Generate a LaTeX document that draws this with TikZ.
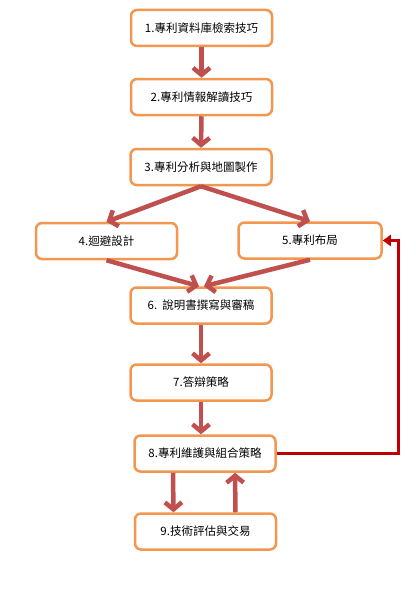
\documentclass[tikz,border=0pt]{standalone}
\usepackage{fontspec}
\setmainfont{Noto Sans CJK TC}
\usetikzlibrary{arrows.meta,calc}
\definecolor{boxedge}{RGB}{242,150,80}
\definecolor{flowarr}{RGB}{192,80,77}
\definecolor{backarr}{RGB}{192,0,0}
\begin{document}
\begin{tikzpicture}[x=1pt,y=-1pt,
  stepbox/.style={draw=boxedge, line width=2.5pt, rounded corners=6pt, fill=white,
    minimum width=141pt, minimum height=36pt, inner sep=0pt,
    font=\fontsize{11.5}{13}\selectfont},
  flow/.style={draw=flowarr, line width=4.5pt,
    -{Straight Barb[length=7pt,width=17pt,line width=4.5pt]}},
  backline/.style={draw=backarr, line width=3pt,
    -{Triangle[length=8pt,width=11pt]}}
]
\useasboundingbox (0,0) rectangle (415,594);
\node[stepbox] (b1) at (201.5,28) {1.專利資料庫檢索技巧};
\node[stepbox] (b2) at (201.5,97) {2.專利情報解讀技巧};
\node[stepbox] (b3) at (201,167) {3.專利分析與地圖製作};
\node[stepbox] (b4) at (106.5,241) {4.迴避設計};
\node[stepbox, minimum width=143pt] (b5) at (310,240.5) {5.專利布局};
\node[stepbox] (b6) at (201,305.5) {6.\ \ 說明書撰寫與審稿};
\node[stepbox] (b7) at (201,382.5) {7.答辯策略};
\node[stepbox] (b8) at (205,453.5) {8.專利維護與組合策略};
\node[stepbox] (b9) at (205.5,531.5) {9.技術評估與交易};

\draw[flow] (b1.south) -- (b2.north);
\draw[flow] (b2.south) -- (b3.north);
\draw[flow] (b3.south) -- (b4.north);
\draw[flow] (b3.south) -- (b5.north);
\draw[flow] (b4.south) -- ([xshift=-2pt]b6.north);
\draw[flow] (b5.south) -- ([xshift=3pt]b6.north);
\draw[flow] (b6.south) -- (b7.north);
\draw[flow] (b7.south) -- (b7.south |- b8.north);
\draw[flow] ([xshift=-32pt]b8.south) -- ([xshift=-32pt]b9.north);
\draw[flow] ([xshift=30pt]b9.north) -- ([xshift=30pt]b8.south);
\draw[backline] (b8.east) -- ++(122,0) |- (b5.east);
\end{tikzpicture}
\end{document}
